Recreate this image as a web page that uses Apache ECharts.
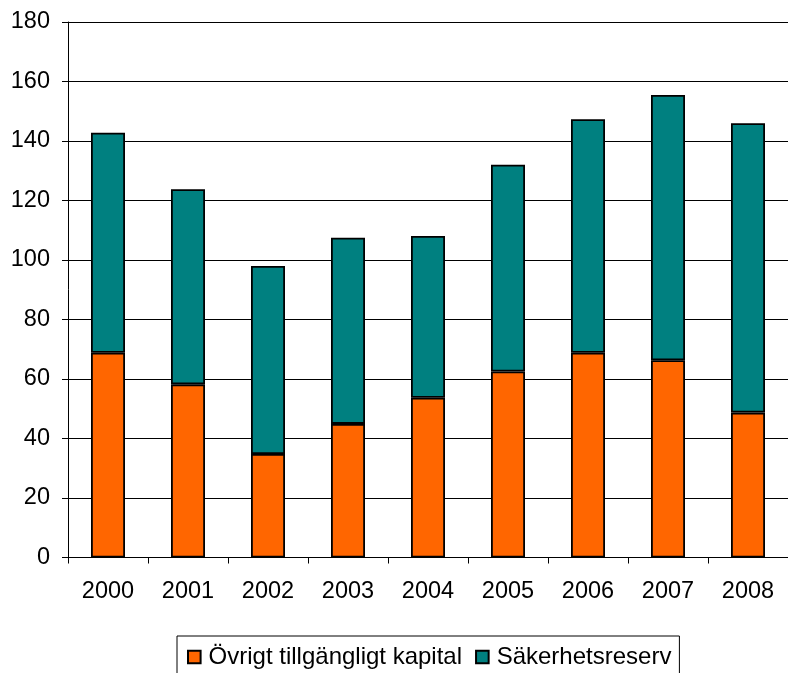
<!DOCTYPE html>
<html>
<head>
<meta charset="utf-8">
<script src="https://cdn.jsdelivr.net/npm/echarts@6/dist/echarts.min.js"></script>
<style>html,body{margin:0;padding:0;background:#fff}#c{width:788px;height:673px}</style>
</head>
<body>
<div id="c"></div>
<script>
const years = ['2000','2001','2002','2003','2004','2005','2006','2007','2008'];
const totals = [142.8, 123.8, 98.0, 107.5, 108.1, 132.0, 147.3, 155.5, 146.0];
const ovrigt = [68.8, 58.2, 34.8, 44.9, 53.7, 62.5, 68.8, 66.3, 48.7];
const sakerhet = totals.map((t, i) => +(t - ovrigt[i]).toFixed(1));
const names = ['Övrigt tillgängligt kapital', 'Säkerhetsreserv'];
const colors = ['#FF6600', '#008080'];
const font = "'Liberation Sans', Arial, sans-serif";

const chart = echarts.init(document.getElementById('c'));
chart.setOption({
  animation: false,
  textStyle: { fontFamily: font },
  grid: { left: 68, right: -5, top: 22, bottom: 115.5, containLabel: false },
  legend: {
    top: 636, left: 177,
    data: names,
    icon: 'rect', itemWidth: 12.6, itemHeight: 12.6, itemGap: 13,
    borderColor: '#000', borderWidth: 1, padding: [9, 8, 9, 10],
    textStyle: { fontSize: 24, color: '#000', fontFamily: font, padding: [0, 0, 0, 3] }
  },
  xAxis: {
    type: 'category', data: years,
    axisLine: { lineStyle: { color: '#000', width: 1 } },
    axisTick: { show: true, length: 6, lineStyle: { color: '#000' } },
    axisLabel: { fontSize: 23.5, color: '#000', margin: 22, fontFamily: font }
  },
  yAxis: {
    type: 'value', min: 0, max: 180, interval: 20,
    axisLine: { show: true, lineStyle: { color: '#000', width: 1 } },
    axisTick: { show: true, length: 6, lineStyle: { color: '#000' } },
    axisLabel: { fontSize: 23.5, color: '#000', margin: 18, fontFamily: font },
    splitLine: { lineStyle: { color: '#000', width: 1 } }
  },
  series: [
    { name: names[0], type: 'bar', stack: 'a', data: ovrigt, barWidth: 34,
      itemStyle: { color: colors[0], borderColor: '#000', borderWidth: 1.8 } },
    { name: names[1], type: 'bar', stack: 'a', data: sakerhet, barWidth: 34,
      itemStyle: { color: colors[1], borderColor: '#000', borderWidth: 1.8 } }
  ]
});
</script>
</body>
</html>
